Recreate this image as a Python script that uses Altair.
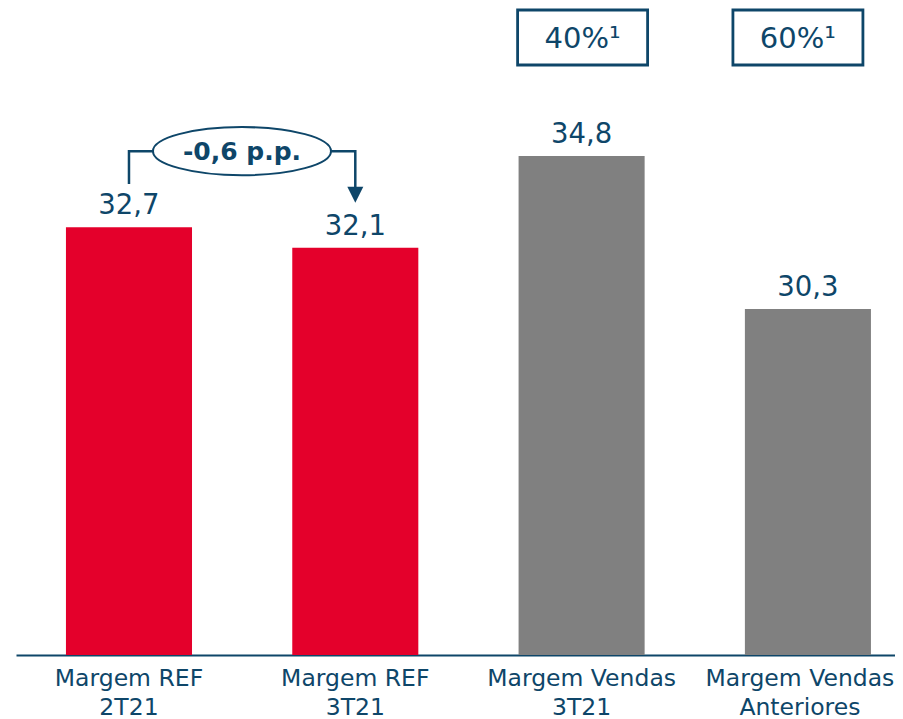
import altair as alt
import pandas as pd

# ---- data ----
categories = ["Margem REF 2T21", "Margem REF 3T21", "Margem Vendas 3T21", "Margem Vendas Anteriores"]
axis_labels = ["Margem REF|2T21", "Margem REF|3T21", "Margem Vendas|3T21", "Margem Vendas|Anteriores"]
values = [32.7, 32.1, 34.8, 30.3]
groups = ["REF", "REF", "Vendas", "Vendas"]
box_categories = ["Margem Vendas 3T21", "Margem Vendas Anteriores"]
box_labels = ["40%¹", "60%¹"]
delta_label = "-0,6 p.p."

NAVY = "#0E4669"
RED = "#E4002B"
GRAY = "#808080"
FONT = "DejaVu Sans"

Y_MIN, Y_MAX = 20.12, 39.15
W, H = 879, 647

df = pd.DataFrame({"cat": categories, "value": values, "group": groups, "lab": axis_labels})
df["base"] = Y_MIN

xscale = alt.Scale(domain=categories, paddingInner=0.443, paddingOuter=0.1635, align=0.675)
yscale = alt.Scale(domain=[Y_MIN, Y_MAX], zero=False, nice=False)
label_expr = "split({" + ",".join(f"'{c}':'{l}'" for c, l in zip(categories, axis_labels)) + "}[datum.value], '|')"

last_test = f"datum.value == '{categories[-1]}'"
x_enc = alt.X("cat:N", scale=xscale, sort=categories,
              axis=alt.Axis(title=None, ticks=False, domain=True, domainColor=NAVY, domainWidth=2,
                            labelAngle=0, labelFont=FONT, labelFontSize=23.5, labelColor=NAVY,
                            labelPadding=11, labelLineHeight=29, labelLimit=0, labelExpr=label_expr,
                            labelOffset={"condition": {"test": last_test, "value": -8}, "value": 0}))
y_enc = alt.Y("value:Q", scale=yscale, axis=None)
x_plain = alt.X("cat:N", scale=xscale, sort=categories)

bars = alt.Chart(df).mark_bar().encode(
    x=x_enc, y=y_enc, y2="base:Q",
    color=alt.Color("group:N", scale=alt.Scale(domain=["REF", "Vendas"], range=[RED, GRAY]), legend=None),
)

value_text = alt.Chart(df).transform_calculate(
    txt="replace(format(datum.value, '.1f'), '.', ',')"
).mark_text(font=FONT, fontSize=27.5, color=NAVY, baseline="bottom", dy=-7).encode(
    x=x_plain, y=y_enc, text="txt:N"
)

# bracket annotation between the two REF bars
bracket_top = 34.94
bracket_df = pd.DataFrame({
    "cat": [categories[0], categories[0], categories[1], categories[1]],
    "value": [33.97, bracket_top, bracket_top, 33.88],
    "order": [0, 1, 2, 3],
})
bracket = alt.Chart(bracket_df).mark_line(color=NAVY, strokeWidth=2.5).encode(
    x=x_plain, y=y_enc, order="order:Q"
)

ellipse_path = ("M-1,0 C-1,-0.149 -0.552,-0.27 0,-0.27 C0.552,-0.27 1,-0.149 1,0 "
                "C1,0.149 0.552,0.27 0,0.27 C-0.552,0.27 -1,0.149 -1,0 Z")
delta_df = pd.DataFrame({"cat": [categories[0]], "value": [bracket_top], "txt": [delta_label]})
ellipse = alt.Chart(delta_df).mark_point(
    shape=ellipse_path, size=178 ** 2, filled=True, fill="white", stroke=NAVY, strokeWidth=2,
    opacity=1, xOffset=113
).encode(x=x_plain, y=y_enc)
delta_text = alt.Chart(delta_df).mark_text(
    font=FONT, fontSize=25, fontWeight="bold", color=NAVY, xOffset=113, baseline="middle", dy=1
).encode(x=x_plain, y=y_enc, text="txt:N")

arrow_df = pd.DataFrame({"cat": [categories[1]], "value": [33.66]})
arrow = alt.Chart(arrow_df).mark_point(
    shape="M-1,-1 L1,-1 L0,1 Z", size=256, filled=True, color=NAVY, opacity=1
).encode(x=x_plain, y=y_enc)

# top boxes
box_y = 38.282
box_path = "M-1,-0.423 L1,-0.423 L1,0.423 L-1,0.423 Z"
box_layers = []
for cat, lab, off in zip(box_categories, box_labels, [1, -10]):
    bdf = pd.DataFrame({"cat": [cat], "value": [box_y], "txt": [lab]})
    box_layers.append(alt.Chart(bdf).mark_point(
        shape=box_path, size=130 ** 2, filled=False, stroke=NAVY, strokeWidth=2.8, opacity=1, xOffset=off
    ).encode(x=x_plain, y=y_enc))
    box_layers.append(alt.Chart(bdf).mark_text(
        font=FONT, fontSize=29, color=NAVY, baseline="middle", xOffset=off, dy=1
    ).encode(x=x_plain, y=y_enc, text="txt:N"))

chart = alt.layer(bars, value_text, bracket, ellipse, delta_text, arrow, *box_layers).properties(
    width=W, height=H, background="white",
    autosize=alt.AutoSizeParams(type="none"),
    padding={"left": 8, "top": 0, "right": 0, "bottom": 64},
).configure_view(strokeWidth=0)

chart.save("out.html", embed_options={"renderer": "svg", "actions": False})
